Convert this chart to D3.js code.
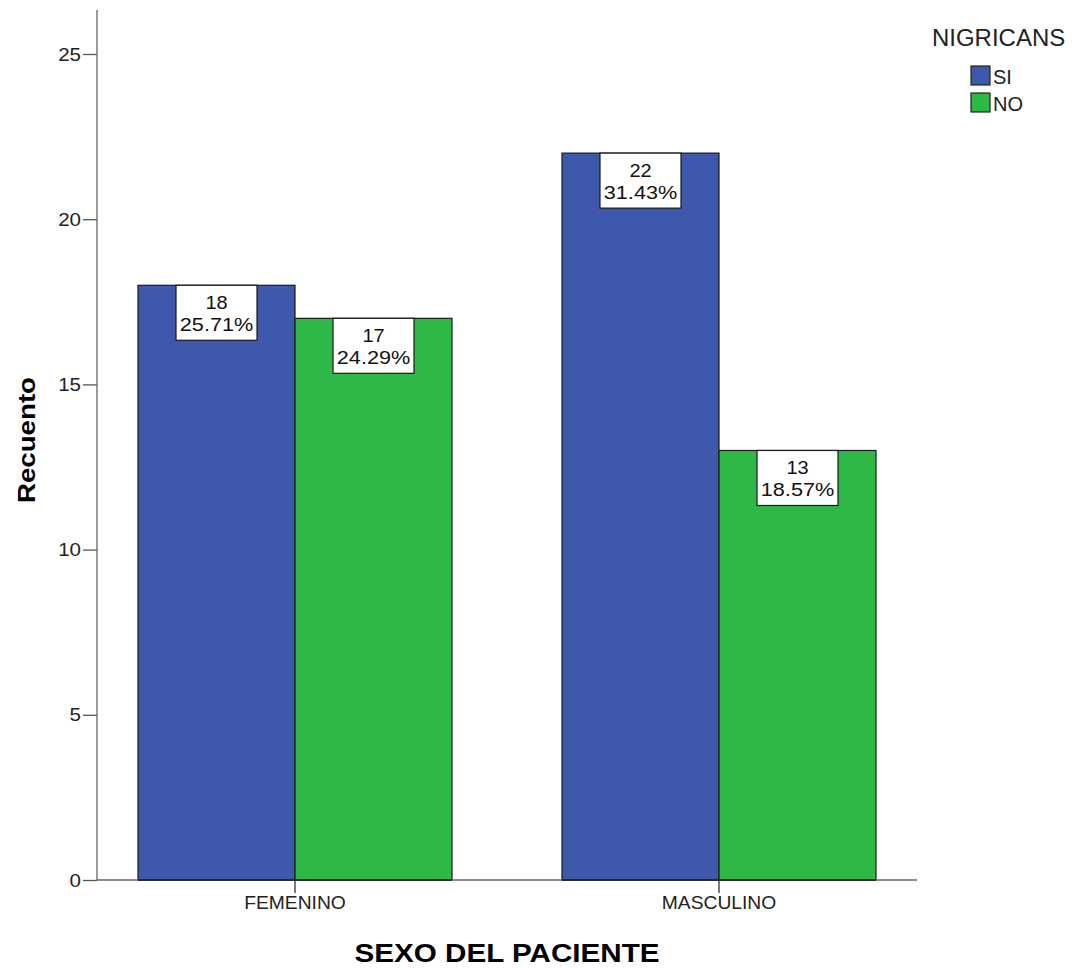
<!DOCTYPE html>
<html><head><meta charset="utf-8">
<script src="https://cdn.jsdelivr.net/npm/d3@7"></script>
<style>body{margin:0;background:#fff}svg{display:block;font-family:Arial,"Liberation Sans",sans-serif}</style>
</head><body><svg id="c" width="1075" height="968"></svg>
<script>
const categories = ["FEMENINO", "MASCULINO"];
const series = ["SI", "NO"];
const siValues = [18, 22];
const noValues = [17, 13];
const siPct = ["25.71%", "31.43%"];
const noPct = ["24.29%", "18.57%"];
const yTicks = [0, 5, 10, 15, 20, 25];
const colors = {SI: "#3e58ac", NO: "#2eb848"};

(function () {
const data = [];
categories.forEach((c, i) => {
  data.push({cat: c, s: "SI", v: siValues[i], p: siPct[i]});
  data.push({cat: c, s: "NO", v: noValues[i], p: noPct[i]});
});

function stretch(sel, f) {
  sel.each(function () {
    const w = this.getComputedTextLength();
    d3.select(this).attr("textLength", w * f).attr("lengthAdjust", "spacingAndGlyphs");
  });
}

const svg = d3.select("#c");
const mLeft = 97, mRight = 917, mTop = 10, mBottom = 880;
const y = d3.scaleLinear().domain([0, 25]).range([mBottom, 54]);
const x0 = d3.scaleBand().domain(categories).range([mLeft, mRight]).paddingInner(0.2594).paddingOuter(0.0967);
const x1 = d3.scaleBand().domain(series).range([0, x0.bandwidth()]);

// bars
svg.append("g").selectAll("rect").data(data).join("rect")
  .attr("x", d => x0(d.cat) + x1(d.s))
  .attr("y", d => y(d.v))
  .attr("width", x1.bandwidth())
  .attr("height", d => mBottom - y(d.v))
  .attr("fill", d => colors[d.s])
  .attr("stroke", "#1a1a1a").attr("stroke-width", 1.2);

// labels
const lab = svg.append("g").selectAll("g").data(data).join("g")
  .attr("transform", d => `translate(${x0(d.cat) + x1(d.s) + x1.bandwidth()/2},${y(d.v)})`);
lab.append("rect").attr("x", -40.5).attr("y", 0).attr("width", 81).attr("height", 55)
  .attr("fill", "#fff").attr("stroke", "#1a1a1a").attr("stroke-width", 1.2);
lab.append("text").attr("y", 24).attr("text-anchor", "middle").attr("font-size", 18.5).attr("fill", "#111").text(d => d.v)
  .call(stretch, 1.08);
lab.append("text").attr("y", 46).attr("text-anchor", "middle").attr("font-size", 18.5).attr("fill", "#111").text(d => d.p)
  .call(stretch, 1.17);

// y axis
const yAxis = d3.axisLeft(y).tickValues(yTicks).tickSize(14).tickPadding(2);
const gy = svg.append("g").attr("transform", `translate(${mLeft},0)`).call(yAxis);
gy.select(".domain").remove();
gy.selectAll(".tick line").attr("stroke", "#555").attr("stroke-width", 1.3);
gy.selectAll(".tick text").attr("font-size", 19).attr("fill", "#222").attr("font-family", "Arial, Liberation Sans, sans-serif")
  .call(stretch, 1.08);
svg.append("line").attr("x1", mLeft).attr("x2", mLeft).attr("y1", mTop).attr("y2", mBottom).attr("stroke", "#666").attr("stroke-width", 1.3);

// x axis
const xAxis = d3.axisBottom(x0).tickSize(13).tickPadding(3);
const gx = svg.append("g").attr("transform", `translate(0,${mBottom})`).call(xAxis);
gx.select(".domain").remove();
gx.selectAll(".tick line").attr("stroke", "#333").attr("stroke-width", 1.3);
gx.selectAll(".tick text").attr("font-size", 18).attr("fill", "#222").attr("font-family", "Arial, Liberation Sans, sans-serif")
  .call(stretch, 1.07);
svg.append("line").attr("x1", mLeft).attr("x2", mRight).attr("y1", mBottom).attr("y2", mBottom).attr("stroke", "#666").attr("stroke-width", 1.3);
categories.forEach(c => {
  svg.append("line").attr("x1", x0(c)).attr("x2", x0(c) + x0.bandwidth()).attr("y1", mBottom).attr("y2", mBottom).attr("stroke", "#1a1a1a").attr("stroke-width", 1.3);
});

// titles
svg.append("text").attr("transform", `translate(35,440) rotate(-90)`).attr("text-anchor", "middle")
  .attr("font-size", 24).attr("font-weight", "bold").attr("fill", "#000").text("Recuento")
  .attr("textLength", 126).attr("lengthAdjust", "spacingAndGlyphs");
svg.append("text").attr("x", 507).attr("y", 962).attr("text-anchor", "middle")
  .attr("font-size", 25).attr("font-weight", "bold").attr("fill", "#000").text("SEXO DEL PACIENTE")
  .attr("textLength", 305).attr("lengthAdjust", "spacingAndGlyphs");

// legend
svg.append("text").attr("x", 932).attr("y", 46).attr("font-size", 23.5).attr("fill", "#222").text("NIGRICANS")
  .call(stretch, 1.02);
const lg = svg.append("g").selectAll("g").data(series).join("g")
  .attr("transform", (d, i) => `translate(971,${66 + i * 27})`);
lg.append("rect").attr("width", 19).attr("height", 19).attr("fill", d => colors[d]).attr("stroke", "#222").attr("stroke-width", 1.2);
lg.append("text").attr("x", 22).attr("y", 18).attr("font-size", 20).attr("fill", "#222").text(d => d);
})();
</script></body></html>
